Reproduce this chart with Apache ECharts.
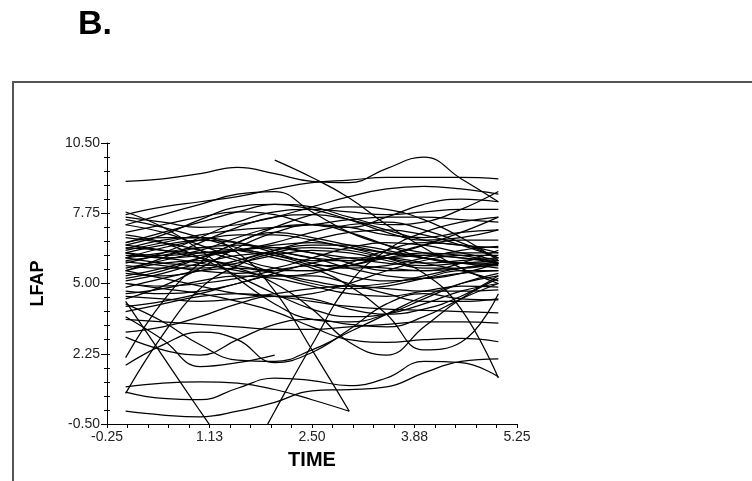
<!DOCTYPE html>
<html>
<head>
<meta charset="utf-8">
<script src="https://cdn.jsdelivr.net/npm/echarts@6/dist/echarts.min.js"></script>
<style>
  html, body { margin: 0; padding: 0; background: #fff; }
  #chart { width: 752px; height: 481px; }
</style>
</head>
<body>
<div id="chart"></div>
<script>
// ---- data ----
const panelLabel = 'B.';
const xAxisTitle = 'TIME';
const yAxisTitle = 'LFAP';
const xTickLabels = [-0.25, 1.125, 2.5, 3.875, 5.25];
const yTickLabels = [-0.5, 2.25, 5.0, 7.75, 10.5];
const timeGrid = [0, 0.5, 1, 1.5, 2, 2.5, 3, 3.5, 4, 4.5, 5];

const c01 = [9.0, 9.1, 9.3, 9.55, 9.3, 9.0, 8.95, 9.5, 9.95, 9.1, 8.2];
const c02 = [7.7, 8.0, 8.2, 8.4, 8.7, 8.95, 9.05, 9.15, 9.15, 9.15, 9.1];
const c03 = [null, null, null, null, 9.83, 9.15, 8.35, 7.3, 6.4, 5.6, 5.0];
const c04 = [7.3, 7.7, 8.1, 8.5, 8.6, 7.8, 7.0, 6.5, 6.2, 6.0, 5.9];
const c05 = [7.6, 7.4, 7.2, 7.3, 7.6, 8.0, 8.4, 8.7, 8.8, 8.7, 8.5];
const c06 = [6.6, 7.0, 7.4, 7.8, 8.1, 8.0, 7.6, 7.3, 7.4, 7.9, 8.6];
const c07 = [7.0, 7.3, 7.6, 7.8, 7.7, 7.3, 7.2, 7.6, 8.1, 8.3, 8.2];
const c08 = [6.5, 6.9, 7.5, 8.0, 8.1, 7.9, 7.5, 7.0, 6.7, 6.8, 7.1];
const c09 = [5.8, 6.2, 6.8, 7.4, 7.8, 7.9, 7.8, 7.7, 7.8, 7.9, 7.9];
const c10 = [6.3, 6.6, 6.9, 7.1, 7.2, 7.3, 7.5, 7.6, 7.6, 7.5, 7.4];
const c11 = [5.5, 6.0, 6.6, 7.2, 7.6, 7.7, 7.5, 7.1, 6.7, 6.5, 6.4];
const c12 = [7.5, 7.2, 6.8, 6.4, 6.1, 5.9, 5.9, 6.0, 6.1, 6.2, 6.2];
const c13 = [6.4, 6.3, 6.2, 6.3, 6.6, 7.0, 7.3, 7.4, 7.1, 6.6, 6.0];
const c14 = [6.2, 6.5, 6.7, 6.6, 6.3, 6.0, 5.9, 6.1, 6.5, 7.0, 7.6];
const c15 = [6.0, 5.8, 5.7, 5.9, 6.3, 6.7, 7.0, 7.1, 6.9, 6.5, 6.0];
const c16 = [5.9, 6.1, 6.4, 6.5, 6.4, 6.2, 6.0, 5.8, 5.7, 5.8, 5.9];
const c17 = [5.7, 5.6, 5.6, 5.8, 6.1, 6.3, 6.2, 5.9, 5.6, 5.6, 5.8];
const c18 = [6.5, 6.3, 6.0, 5.7, 5.5, 5.5, 5.7, 6.0, 6.2, 6.1, 5.8];
const c19 = [6.1, 6.0, 5.8, 5.5, 5.3, 5.4, 5.8, 6.3, 6.6, 6.5, 6.2];
const c20 = [5.3, 5.6, 6.0, 6.3, 6.4, 6.2, 5.8, 5.5, 5.5, 5.8, 6.3];
const c21 = [5.1, 5.4, 5.8, 6.1, 6.2, 6.0, 5.6, 5.3, 5.2, 5.4, 5.8];
const c22 = [5.0, 4.9, 5.0, 5.2, 5.5, 5.7, 5.7, 5.6, 5.5, 5.6, 5.9];
const c23 = [4.85, 5.2, 5.5, 5.6, 5.4, 5.1, 4.9, 5.0, 5.3, 5.6, 5.7];
const c24 = [4.7, 4.6, 4.7, 5.0, 5.4, 5.8, 6.0, 6.0, 5.8, 5.5, 5.1];
const c25 = [4.6, 4.8, 5.1, 5.3, 5.2, 4.9, 4.6, 4.5, 4.7, 4.9, 4.86];
const c26 = [4.5, 4.4, 4.3, 4.4, 4.6, 4.8, 4.9, 4.8, 4.7, 4.7, 4.75];
const c27 = [4.1, 4.3, 4.6, 5.0, 5.3, 5.3, 5.0, 4.6, 4.3, 4.3, 4.4];
const c28 = [3.9, 4.2, 4.5, 4.6, 4.5, 4.3, 4.1, 4.0, 3.95, 3.9, 3.85];
const c29 = [5.5, 5.2, 4.9, 4.6, 4.5, 4.6, 5.0, 5.5, 5.9, 6.1, 6.1];
const c30 = [6.8, 6.6, 6.3, 5.9, 5.4, 5.0, 4.8, 4.9, 5.2, 5.5, 5.5];
const c31 = [7.3, 7.0, 6.5, 6.0, 5.6, 5.5, 5.7, 6.1, 6.5, 6.7, 6.7];
const c32 = [6.35, 6.7, 6.8, 6.6, 6.2, 5.8, 5.6, 5.7, 6.0, 6.3, 6.45];
const c33 = [5.6, 5.9, 6.2, 6.3, 6.1, 5.7, 5.3, 5.1, 5.2, 5.4, 5.5];
const c34 = [6.2, 6.1, 6.3, 6.8, 7.2, 7.3, 7.0, 6.5, 6.0, 5.8, 5.8];
const c35 = [5.4, 5.3, 5.5, 5.9, 6.3, 6.5, 6.5, 6.3, 6.0, 5.8, 5.75];
const c36 = [5.85, 5.7, 5.5, 5.4, 5.6, 6.0, 6.4, 6.6, 6.5, 6.2, 5.9];
const c37 = [6.0, 6.4, 6.7, 6.9, 6.9, 6.7, 6.4, 6.2, 6.1, 6.0, 5.8];
const c38 = [4.3, 2.15, 0.0, -2.1, null, null, null, null, null, null, null];
const c39 = [null, null, null, -2.7, 0.0, 2.6, 5.0, 6.3, 7.0, 7.4, 7.6];
const c40 = [0.7, 3.0, 4.8, 5.7, 6.2, 6.4, 6.3, 6.0, 5.8, 5.9, 6.0];
const c41 = [2.1, 4.3, 5.8, 6.6, 7.0, 6.8, 6.5, 6.2, 6.0, 5.8, 5.6];
const c42 = [3.7, 2.8, 1.75, 1.9, 2.2, null, null, null, null, null, null];
const c43 = [1.8, 2.6, 3.1, 2.8, 1.9, 2.3, 3.2, 4.2, 4.6, 4.4, 4.36];
const c44 = [3.6, 3.5, 3.4, 3.3, 3.2, 3.2, 3.3, 3.4, 3.5, 3.5, 3.45];
const c45 = [5.0, 4.8, 4.6, 4.3, 3.9, 3.3, 2.8, 2.7, 2.8, 2.85, 2.72];
const c46 = [6.0, 6.2, 6.4, 6.3, 6.0, 5.6, 4.9, 3.8, 2.4, 2.7, 4.6];
const c47 = [5.5, 5.8, 5.9, 5.6, 5.0, 4.0, 2.7, 2.2, 3.3, 4.4, 5.2];
const c48 = [6.2, 6.0, 6.1, 6.3, 6.5, 6.6, 6.4, 6.0, 5.4, 4.0, 1.3];
const c49 = [6.6, 6.8, 6.8, 6.2, 4.7, 2.4, 0.0, null, null, null, null];
const c50 = [0.0, -0.15, -0.22, 0.0, 0.35, 0.8, 0.85, 0.95, 1.5, 1.95, 2.05];
const c51 = [0.95, 1.1, 1.15, 1.1, 0.85, 0.45, 0.0, null, null, null, null];
const c52 = [0.75, 0.5, 0.45, 0.9, 1.3, 1.2, 1.0, 1.3, 1.95, 1.9, 1.35];
const c53 = [2.9, 2.4, 2.2, 2.8, 3.4, 3.6, 3.4, 3.3, 3.7, 4.4, 5.0];
const c54 = [3.1, 3.3, 3.7, 4.2, 4.5, 4.4, 4.0, 3.8, 4.0, 4.5, 5.3];
const c55 = [4.2, 3.5, 2.6, 2.0, 1.95, 2.4, 3.1, 3.8, 4.5, 5.0, 5.3];
const c56 = [7.8, 7.2, 6.3, 5.2, 4.2, 3.6, 3.5, 3.8, 4.4, 5.0, 5.4];
const c57 = [6.9, 6.6, 6.0, 5.3, 4.6, 4.0, 3.7, 3.8, 4.2, 4.7, 5.0];
const c59 = [5.2, 5.5, 6.0, 6.6, 7.2, 7.7, 8.0, 7.9, 7.5, 6.8, 5.9];
const c60 = [4.4, 4.9, 5.6, 6.4, 7.0, 7.3, 7.2, 6.9, 6.8, 7.0, 7.1];

const curves = [c01,c02,c03,c04,c05,c06,c07,c08,c09,c10,c11,c12,c13,c14,c15,c16,c17,c18,c19,c20,
  c21,c22,c23,c24,c25,c26,c27,c28,c29,c30,c31,c32,c33,c34,c35,c36,c37,c38,c39,c40,
  c41,c42,c43,c44,c45,c46,c47,c48,c49,c50,c51,c52,c53,c54,c55,c56,c57,c59,c60];

// ---- chart ----
const xMin = -0.25, xMax = 5.25, yMin = -0.5, yMax = 10.5;
const xMinor = [], yMinor = [];
for (let i = 0; i <= 20; i++) xMinor.push(xMin + (xMax - xMin) * i / 20);
for (let i = 0; i <= 20; i++) yMinor.push(yMin + (yMax - yMin) * i / 20);

const font = '"Liberation Sans", Arial, sans-serif';
const chart = echarts.init(document.getElementById('chart'), null, { renderer: 'canvas' });

const series = curves.map((vals) => ({
  type: 'line',
  xAxisIndex: 0,
  yAxisIndex: 0,
  data: timeGrid.map((t, i) => [t, vals[i]]).filter(p => p[1] !== null),
  smooth: 0.45,
  showSymbol: false,
  symbol: 'none',
  clip: true,
  lineStyle: { color: '#000', width: 1.25 },
  silent: true
}));

chart.setOption({
  animation: false,
  backgroundColor: '#fff',
  grid: { left: 107, right: 235, top: 143, bottom: 57, containLabel: false },
  graphic: [
    { type: 'rect', shape: { x: 13, y: 82, width: 800, height: 500 },
      style: { fill: 'none', stroke: '#555', lineWidth: 2 }, silent: true },
    { type: 'text', style: { x: 78, y: 25, text: panelLabel, font: 'bold 34px ' + font,
      fill: '#000', textVerticalAlign: 'middle' }, silent: true }
  ],
  xAxis: [
    { type: 'value', min: xMin, max: xMax, position: 'bottom',
      name: xAxisTitle, nameLocation: 'middle', nameGap: 26,
      nameTextStyle: { fontFamily: font, fontWeight: 'bold', fontSize: 20, color: '#000' },
      axisLine: { show: true, onZero: false, lineStyle: { color: '#000', width: 1 } },
      axisTick: { show: true, customValues: xMinor, length: 4, inside: false, lineStyle: { color: '#000' } },
      axisLabel: { show: true, customValues: xTickLabels, formatter: v => v.toFixed(2),
        fontFamily: font, fontSize: 14, color: '#222', margin: 6 },
      splitLine: { show: false } }
  ],
  yAxis: [
    { type: 'value', min: yMin, max: yMax, position: 'left',
      name: yAxisTitle, nameLocation: 'middle', nameGap: 60,
      nameTextStyle: { fontFamily: font, fontWeight: 'bold', fontSize: 18, color: '#000' },
      axisLine: { show: true, onZero: false, lineStyle: { color: '#000', width: 1 } },
      axisTick: { show: true, customValues: yTickLabels, length: 6, lineStyle: { color: '#000' } },
      axisLabel: { show: true, customValues: yTickLabels, formatter: v => v.toFixed(2),
        fontFamily: font, fontSize: 14, color: '#222', margin: 7 },
      splitLine: { show: false } },
    { type: 'value', min: yMin, max: yMax, position: 'left', offset: 3,
      axisLine: { show: false, onZero: false },
      axisTick: { show: true, inside: true, customValues: yMinor, length: 6, lineStyle: { color: '#000' } },
      axisLabel: { show: false },
      splitLine: { show: false } }
  ],
  series: series
});
</script>
</body>
</html>
